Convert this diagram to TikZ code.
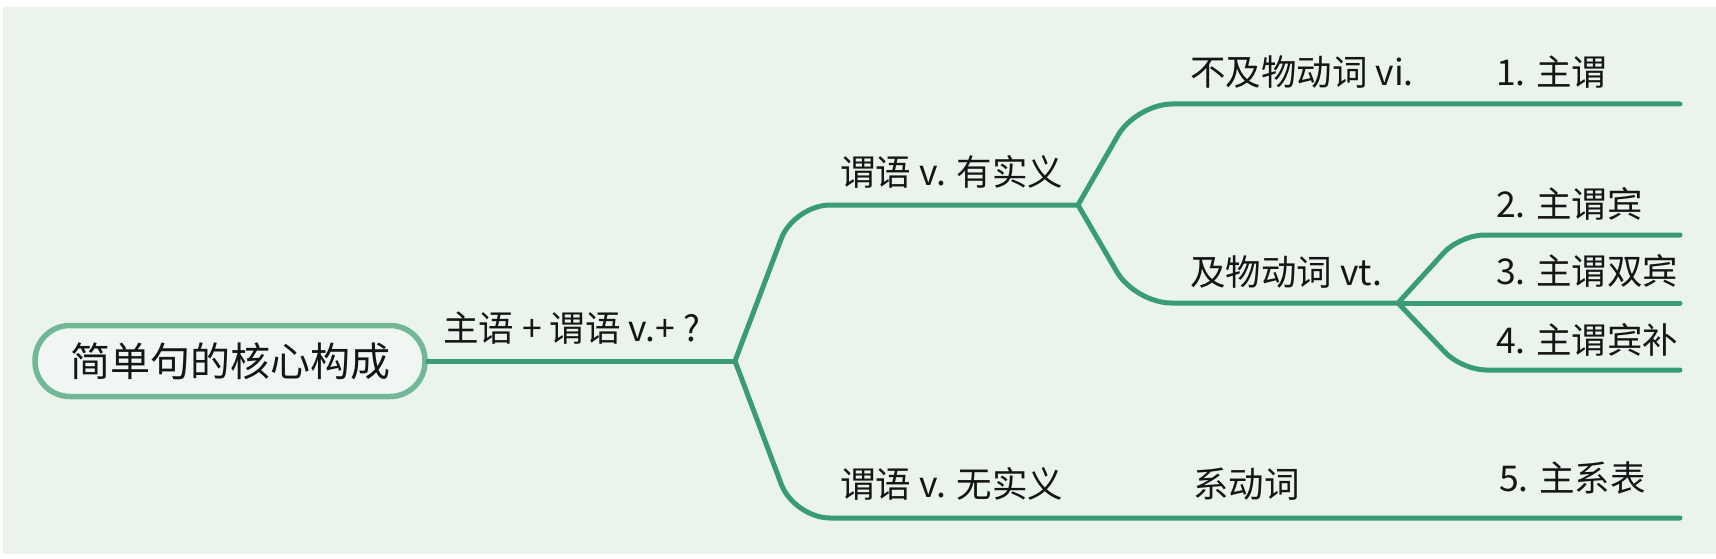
\documentclass[tikz,border=0pt]{standalone}
\usepackage{fontspec}
\setmainfont{Noto Sans CJK SC}
\definecolor{bg}{HTML}{EAF4EC}
\definecolor{lineg}{HTML}{3A9C77}
\definecolor{pillg}{HTML}{72B896}
\definecolor{pillfill}{HTML}{F0F7F2}
\definecolor{txt}{HTML}{151515}
\begin{document}
\begin{tikzpicture}[x=1pt,y=-1pt,line join=round]
\tikzset{
  branch/.style={draw=lineg, line width=5pt, rounded corners=36pt, line cap=round},
  lbl/.style={anchor=west, inner sep=0pt, font=\fontsize{35.5}{40}\selectfont, text=txt},
  rootbox/.style={draw=pillg, line width=5.5pt, fill=pillfill, rounded corners=35pt,
    minimum width=390pt, minimum height=71pt, inner sep=0pt,
    font=\fontsize{40}{44}\selectfont, text=txt},
}
\useasboundingbox (0,0) rectangle (1716,559);
\fill[white] (0,0) rectangle (1716,559);
\fill[bg] (3,7) rectangle (1716,554);

\node[rootbox] (root) at (230,361) {简单句的核心构成};

\coordinate (b1) at (735,361);
\coordinate (b2) at (1078,205);
\coordinate (b3) at (1398,303);
\coordinate (e1) at (1680,104);
\coordinate (e2) at (1680,235);
\coordinate (e3) at (1680,303);
\coordinate (e4) at (1680,370);
\coordinate (e5) at (1680,518);

\draw[branch] (root.east) -- (b1);
\draw[branch] (b1) -- (794,205) -- (b2);
\draw[branch] (b1) -- (794,518) -- (e5);
\draw[branch] (b2) -- (1136,104) -- (e1);
\draw[branch] (b2) -- (1135,303) -- (b3);
\draw[branch, rounded corners=24pt] (b3) -- (1460,235) -- (e2);
\draw[branch] (b3) -- (e3);
\draw[branch, rounded corners=24pt] (b3) -- (1462,370) -- (e4);

\node[lbl] (l0) at (443,328) {主语 + 谓语 v.+ ?};
\node[lbl] (l1) at (840,172) {谓语 v. 有实义};
\node[lbl] (l2) at (1190,72) {不及物动词 vi.};
\node[lbl] (l3) at (1496,72) {1. 主谓};
\node[lbl] (l4) at (1190,272) {及物动词 vt.};
\node[lbl] (l5) at (1496,204) {2. 主谓宾};
\node[lbl] (l6) at (1496,271) {3. 主谓双宾};
\node[lbl] (l7) at (1496,340) {4. 主谓宾补};
\node[lbl] (l8) at (840,484) {谓语 v. 无实义};
\node[lbl] (l9) at (1193,484) {系动词};
\node[lbl] (l10) at (1499,478) {5. 主系表};
\end{tikzpicture}
\end{document}
